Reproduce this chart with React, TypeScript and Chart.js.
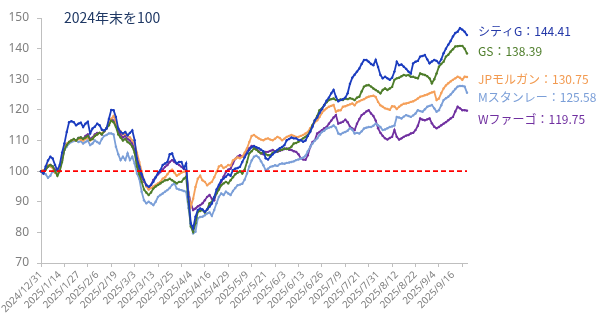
import React, { useEffect, useRef } from 'react';
import { Chart, registerables } from 'chart.js';

Chart.register(...registerables);

const tickLabels = [
  '2024/12/31', '2025/1/14', '2025/1/27', '2025/2/6', '2025/2/19', '2025/3/3',
  '2025/3/13', '2025/3/25', '2025/4/4', '2025/4/16', '2025/4/29', '2025/5/9',
  '2025/5/21', '2025/6/3', '2025/6/13', '2025/6/26', '2025/7/9', '2025/7/21',
  '2025/7/31', '2025/8/12', '2025/8/22', '2025/9/4', '2025/9/16',
];
const LABEL_STEP = 8;
const TICKMARK_STEP = 10;

const citi = [
  100, 99.2, 101.5, 103.5, 104.7, 104.1, 102, 100.3, 102, 106,
  109, 112.8, 116, 116.3, 116, 115, 115.5, 115.8, 114.4, 115.5,
  116.1, 112.3, 113.9, 114.5, 115.5, 115, 113.5, 113.3, 113.9, 117,
  120, 119.9, 117.7, 113.9, 112.8, 112.3, 112.8, 111.7, 112.5, 113.3,
  110.1, 104.1, 101.5, 99, 97.1, 95.4, 94.9, 95.5, 96.5, 98,
  99.5, 100.3, 102, 102.5, 103, 105.5, 105.8, 103.6, 102.5, 103,
  103, 101, 102.5, 91.6, 82.9, 81.3, 85.1, 87.3, 87.8, 87.5,
  86.7, 87.5, 88.4, 89.4, 91.5, 94, 95.5, 97, 97.6, 98.2,
  99, 98.5, 100.3, 100.8, 101, 101.4, 103, 104.5, 105.8, 107,
  107.8, 108.2, 107.8, 107.5, 107, 106.5, 104.2, 103.8, 104.7, 105.5,
  106.2, 106.9, 107.5, 107.9, 108.5, 110.1, 110.5, 111, 110.7, 110.7,
  110.2, 110.1, 109.6, 110, 111.5, 112.8, 114.5, 116.6, 117.5, 119,
  120.2, 121.5, 123, 124, 125.4, 126.5, 124.3, 122.8, 123.2, 123.5,
  124, 125.4, 128.5, 130.5, 131.5, 132.5, 133.5, 135, 136.3, 136.3,
  135.7, 135, 134.6, 136.3, 134, 131.4, 130.3, 130.8, 130.3, 129.8,
  130.5, 132.5, 135.7, 134.6, 134.8, 134.1, 133.4, 132.5, 131.9, 135.2,
  135.7, 136, 137.4, 137.6, 137.9, 136.5, 135.2, 135.8, 136.3, 136,
  135.2, 136.5, 138.5, 140, 141.3, 142.5, 144, 145.1, 145.5, 146.7,
  146.2, 145.5, 144.41,
];

const gs = [
  100, 99.5, 100.5, 101.5, 102, 101.5, 100, 98.5, 100, 103,
  107, 108.5, 109.5, 110, 110.5, 110, 110.8, 111, 110.5, 111,
  111.5, 110.2, 110.5, 111.5, 112, 112.5, 112, 113, 114, 115,
  116.5, 116, 114.5, 112, 111, 110, 110.5, 109.5, 109, 108,
  106, 101.5, 99, 96.5, 94, 93, 92.2, 93, 94.3, 95,
  95.5, 96, 96.5, 97, 97.1, 97.5, 97, 96.5, 96, 96.5,
  96.5, 97.5, 98.2, 90, 81.9, 80.2, 83, 86.7, 87, 87.3,
  86.5, 87.5, 89.5, 90, 91.5, 92.7, 94, 95.4, 96, 96.5,
  96, 97, 98, 99, 99.5, 100, 99.2, 100.5, 103, 105.8,
  106.5, 107.4, 107, 106.3, 105.8, 106.3, 105.5, 105.2, 105.2, 106,
  106.3, 106.5, 106.9, 107, 107.4, 107.2, 107.4, 108, 109, 109.2,
  109.6, 110.2, 110.7, 111.2, 111.8, 113, 115, 116.6, 118, 119.9,
  120.5, 121.6, 122.5, 123.2, 123.5, 123.7, 123.2, 123.2, 123.4, 123.2,
  123.7, 123.5, 123.8, 123.6, 123.2, 124, 124.3, 126, 127.6, 128,
  128.1, 127.6, 127, 126.5, 126, 125.4, 126.5, 127, 126.5, 127,
  127.5, 129.8, 130.3, 130.5, 131, 131.4, 131.2, 131.4, 130.8, 130.8,
  130.5, 130.3, 131.9, 131.6, 131.4, 131, 130.3, 128.7, 130, 131.9,
  134.1, 135, 135.7, 137.4, 138, 139, 139.8, 140.7, 140.8, 140.9,
  140.9, 140, 138.39,
];

const jpm = [
  100, 100.3, 100.8, 102, 101.5, 101, 99.5, 99.8, 101, 104,
  108, 109, 109.5, 110, 110.2, 110, 110.5, 110.3, 110, 110.5,
  111, 110, 110.5, 111.5, 112, 112.5, 112.3, 113, 114, 115.5,
  117, 118, 116, 114, 113, 112, 112.2, 111.5, 111, 110,
  109, 106, 103, 100, 97, 95, 94, 94.5, 95, 95.5,
  96, 96.5, 97.5, 98, 99, 100, 100.5, 99.5, 98.5, 99,
  99.5, 99.8, 100, 93, 88.3, 91, 94.8, 97.5, 98.5, 97,
  96.5, 95.4, 96, 96.5, 98, 99.7, 101.5, 101.9, 101, 101.4,
  102, 101.8, 103.5, 104, 104.5, 104.2, 104.7, 106, 107.4, 109.5,
  111.5, 111.8, 111.2, 110.7, 110.3, 110.1, 110.5, 110.7, 110.3, 110.1,
  110.6, 111.2, 110.8, 110.1, 110.6, 111.2, 111.5, 111.8, 111.5, 111.2,
  111.2, 111.5, 111.8, 112.3, 112.8, 114, 115, 116, 116.6, 117.7,
  119, 119.9, 120.5, 121, 121.3, 121.6, 119.4, 119.8, 119.9, 121,
  121.2, 121.5, 121.8, 122.1, 121.5, 122.5, 122.8, 123.2, 123.5, 124,
  124.3, 124.5, 124.6, 124.2, 122.6, 121.5, 121, 120.5, 120.3, 120,
  121.2, 121.1, 120.3, 121, 121.6, 122, 122.1, 122.3, 122.6, 122.8,
  123.2, 123.7, 124.3, 124.5, 124.8, 125, 125.4, 125.7, 125.9, 123.2,
  123.7, 125.5, 127, 128, 128.7, 129.3, 129.8, 130.3, 130.8, 130.5,
  129.8, 130.8, 130.75,
];

const ms = [
  100, 99.5, 99, 97.8, 98.5, 100, 99.5, 99, 101, 104,
  107, 108, 109, 109.5, 109.8, 110, 109.5, 109.8, 109, 109.5,
  110, 108.5, 109, 110, 109.5, 109, 110.5, 111.5, 111.8, 112.3,
  112.3, 112, 108, 105.5, 103.6, 104.7, 103.6, 105.8, 103.6, 104.7,
  102.5, 99.2, 97.5, 93.3, 90.5, 89.5, 90, 89.5, 88.9, 90,
  91.6, 92.2, 92.7, 93.3, 93.8, 94.5, 95.5, 96, 94.3, 94,
  93.8, 93.5, 93.3, 88, 82.4, 79.7, 80.2, 84.6, 85, 85.1,
  85.6, 86.2, 86.5, 85.4, 87.3, 89.5, 91.6, 92.7, 92.2, 93.3,
  92.7, 92.2, 93.5, 94.5, 95.4, 95.6, 95.9, 97.2, 99.2, 101.5,
  103.5, 104.7, 105, 104.5, 103.2, 101.9, 100.3, 100.8, 101.4, 101.6,
  101.9, 101.7, 102.3, 102.5, 102.4, 102.7, 102.8, 103, 103.2, 103.6,
  103.8, 104.1, 104.4, 105, 106.5, 107.9, 109, 110, 110.7, 111.8,
  112.8, 113.2, 113.9, 114.2, 114.4, 114.9, 114.2, 112.3, 112, 112.5,
  112.8, 113.2, 114, 113.5, 112.3, 112.5, 112.3, 113, 113.9, 114.2,
  114.4, 114.4, 114.8, 115.5, 115, 114.4, 113.4, 113.6, 114, 114.4,
  114.6, 114.9, 117.7, 117.5, 117.2, 117.8, 118.3, 118, 117.7, 118.2,
  118.8, 119.9, 119.6, 119.4, 120.2, 121, 121.3, 121.6, 120.5, 119.4,
  119.9, 121.5, 123.2, 123.8, 124.3, 125, 125.9, 126.8, 127.6, 127.8,
  127.8, 127.6, 125.58,
];

const wfc = [
  100, 99.8, 100.5, 101.5, 102, 101.5, 100.5, 99.5, 100.5, 103.5,
  107, 108.5, 109.5, 110, 110.3, 110, 110.8, 111, 110.5, 111.5,
  112, 110.5, 111, 112, 112.5, 112.5, 112, 113, 114, 115.5,
  117, 116.5, 115, 113, 112, 111, 111.5, 110.5, 110, 109,
  107, 103, 100, 98, 96.5, 95.5, 94.3, 95.5, 97.1, 98,
  99, 99.7, 100.5, 101.4, 102, 103, 103.6, 103, 102.5, 102,
  101.4, 100.8, 100.3, 93, 89.5, 87.3, 87.8, 88.5, 88.9, 89.5,
  90.5, 91.6, 92.2, 91, 90.5, 93, 94.8, 96.5, 98.2, 99.7,
  100.5, 100.8, 102.5, 104, 104.7, 105.2, 104.7, 105.5, 106.9, 107.5,
  108.2, 108, 107.4, 106.5, 105.8, 105.5, 106.3, 106.3, 106.6, 106.9,
  106.5, 106.3, 106.6, 106.9, 107.2, 107.4, 107, 106.9, 106.5, 106.3,
  105.5, 104.2, 103.8, 103.7, 105.2, 107.9, 109.5, 110.1, 112.3, 112.8,
  113.4, 114, 114.4, 115.5, 116.5, 117.5, 118.3, 115.5, 115.8, 116.1,
  116.8, 116, 114.5, 113.9, 113.4, 115.5, 117, 118.3, 118.8, 119.5,
  119.9, 118.8, 118, 116.5, 114, 112.5, 111.5, 110.7, 110.3, 110.8,
  111.2, 113.4, 111.2, 110.3, 110.7, 111.2, 111.6, 111.8, 112.3, 112.5,
  113.4, 114.8, 117.2, 116.8, 116.6, 116.9, 117.2, 115.6, 114.5, 114,
  114.4, 115, 115.5, 116, 116.6, 117.2, 117.7, 119.5, 121, 120.5,
  119.9, 119.9, 119.75,
];

const seriesNames = ['シティG', 'GS', 'JPモルガン', 'Mスタンレー', 'Wファーゴ'];
const seriesData = [citi, gs, jpm, ms, wfc];
const seriesColors = ['#1b3cbf', '#4e7d2a', '#f5a05a', '#7b9fd8', '#7030a0'];
const labelColors = ['#2438a8', '#4e7d2a', '#f29a50', '#7b9fd8', '#7030a0'];
const labelOffsetsPx = [-3.4, -1.9, 2.3, 4.5, 8.4];
const baselineValue = 100;
const titleText = '2024年末を100';

export default function App() {
  const canvasRef = useRef<HTMLCanvasElement | null>(null);

  useEffect(() => {
    const canvas = canvasRef.current;
    if (!canvas) return;
    const N = citi.length;
    const categories = Array.from({ length: N }, (_, i) =>
      i % LABEL_STEP === 0 && tickLabels[i / LABEL_STEP] ? tickLabels[i / LABEL_STEP] : ''
    );

    const endLabels = {
      id: 'endLabels',
      afterDraw(chart: any) {
        const { ctx, chartArea, scales } = chart;
        const y = scales.y;
        ctx.save();
        ctx.textBaseline = 'middle';
        ctx.textAlign = 'left';
        ctx.font = '12px "Noto Sans CJK JP"';
        seriesNames.forEach((name, k) => {
          const arr = seriesData[k];
          const v = arr[arr.length - 1];
          const py = y.getPixelForValue(v) + labelOffsetsPx[k];
          ctx.fillStyle = labelColors[k];
          ctx.fillText(`${name}：${v.toFixed(2)}`, chartArea.right + 11, py);
        });
        ctx.font = '14px "Noto Sans CJK JP"';
        ctx.fillStyle = '#1f3864';
        ctx.fillText(titleText, chartArea.left + 23, chartArea.top);
        ctx.restore();
      },
    };

    const datasets: any[] = [
      {
        label: 'base',
        data: categories.map(() => baselineValue),
        borderColor: '#ff0000',
        borderWidth: 1.6,
        borderDash: [5, 3],
        pointRadius: 0,
      },
      ...seriesNames.map((name, k) => ({
        label: name,
        data: seriesData[k],
        borderColor: seriesColors[k],
        backgroundColor: seriesColors[k],
        borderWidth: 1.8,
        pointRadius: 1.2,
        pointBorderWidth: 0,
        pointBackgroundColor: seriesColors[k],
      })),
    ];

    const chart = new Chart(canvas, {
      type: 'line',
      data: { labels: categories, datasets },
      options: {
        animation: false,
        responsive: true,
        maintainAspectRatio: false,
        events: [],
        layout: { padding: { top: 18, right: 133, left: 0, bottom: 0 } },
        elements: { line: { tension: 0 } },
        plugins: { legend: { display: false }, tooltip: { enabled: false } },
        scales: {
          x: {
            type: 'category',
            offset: false,
            afterFit: (s: any) => { s.height = 66; },
            grid: {
              drawOnChartArea: false,
              drawTicks: true,
              tickLength: 4,
              tickColor: (ctx: any) => (ctx.index % TICKMARK_STEP === 0 ? '#bfbfbf' : 'rgba(0,0,0,0)'),
            },
            border: { display: true, color: '#bfbfbf', width: 1 },
            ticks: {
              autoSkip: false,
              minRotation: 45,
              maxRotation: 45,
              padding: 2,
              color: '#7f7f7f',
              font: { family: '"Noto Sans"', size: 10 },
              callback: (_v: any, i: number) => categories[i],
            },
          },
          y: {
            min: 70,
            max: 150,
            afterFit: (s: any) => { s.width = 41; },
            grid: { drawOnChartArea: false, drawTicks: true, tickLength: 4, tickColor: '#bfbfbf' },
            border: { display: true, color: '#bfbfbf', width: 1 },
            ticks: {
              stepSize: 10,
              padding: 8,
              color: '#7f7f7f',
              font: { family: '"Noto Sans"', size: 12 },
            },
          },
        },
      },
      plugins: [endLabels],
    });
    return () => chart.destroy();
  }, []);

  return (
    <div style={{ position: 'fixed', left: 0, top: 0, width: 600, height: 329, background: '#fff' }}>
      <canvas ref={canvasRef} />
    </div>
  );
}
